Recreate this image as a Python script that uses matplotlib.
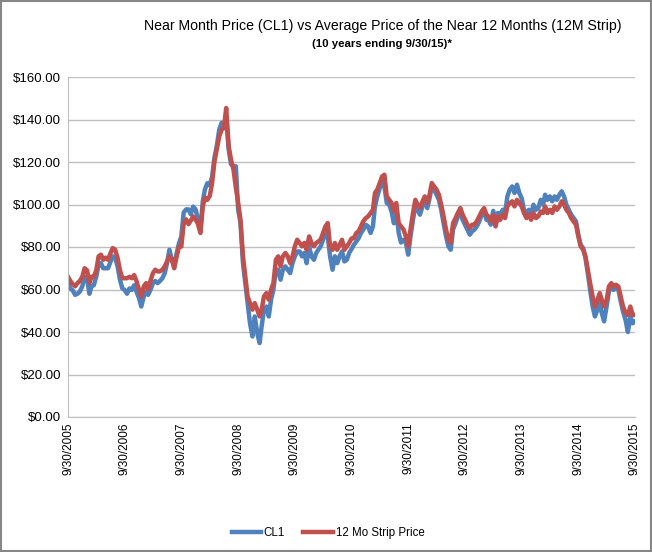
import matplotlib
matplotlib.use("Agg")
import matplotlib.pyplot as plt
from matplotlib.patches import Rectangle
import pandas as pd

plt.rcParams['font.family'] = ['Liberation Sans', 'DejaVu Sans']

# semi-monthly observations (15th and month end), 9/30/2005 .. 9/30/2015
try:
    dates = pd.date_range('2005-09-30', '2015-09-30', freq='SME')
except ValueError:
    dates = pd.date_range('2005-09-30', '2015-09-30', freq='SM')

cl1 = [
    63, 60.5, 59.5, 57.5, 58, 59, 61.5, 66, 65, 58,
    61.5, 62, 66, 71.7, 72.4, 70, 70, 70, 73, 75.6,
    75, 71, 64.5, 60.5, 59.8, 58, 60.5, 59.8, 62, 59,
    56, 52, 56.7, 59, 57.5, 59.8, 63, 64, 63, 64,
    65.3, 67.7, 72.4, 78.7, 74, 71, 77, 81.8, 85, 96.2,
    97.7, 97.7, 95.4, 99, 97.7, 93, 88.2, 101.4, 107.1, 110,
    109, 113, 121.9, 127.4, 135.2, 138.4, 136.8, 140, 125.8, 119,
    118, 118, 97.6, 91.3, 72.4, 63, 53.6, 44.2, 37.9, 47.3,
    39.5, 34.8, 42.6, 50.5, 52, 47.3, 55.2, 59.9, 69.3, 69.3,
    64.6, 69.3, 70.9, 69.3, 67.7, 72.4, 75.6, 77.9, 77.9, 75.6,
    77.2, 72.4, 80.3, 75.6, 74, 77.2, 78.7, 80.3, 83.4, 86.6,
    85, 75.6, 69.3, 75.6, 72.4, 75.6, 77.9, 73.2, 74, 77.2,
    79, 81, 82.6, 84.2, 86.6, 88.2, 90.5, 89.7, 86.6, 89.7,
    99.1, 103.8, 107.7, 110.1, 108.5, 100.7, 99.9, 96.7, 91.2, 98.3,
    86.6, 82.1, 83.4, 82.1, 76.4, 85, 92.8, 99.1, 97.5, 95.2,
    99.1, 102.2, 98.3, 103, 108.5, 107, 104.6, 102.2, 97.5, 91.2,
    85, 80.3, 78.7, 88.2, 91.2, 94.4, 96, 92.8, 90.5, 88.2,
    85.8, 87.4, 88.2, 89.7, 92, 95.2, 96.7, 92.8, 92.8, 90.5,
    97, 91.2, 96, 95.2, 97.5, 96, 103.8, 107, 108.5, 105.4,
    109.3, 105.4, 103, 97.5, 96, 97.5, 95.2, 99.9, 97.5, 98.3,
    102.2, 99.9, 104.6, 102.2, 103.8, 101.5, 103.8, 102.2, 104.6, 106.2,
    103.8, 99.9, 97.5, 95.2, 93.6, 92, 85.7, 81, 79.5, 74.8,
    67.7, 59.8, 52, 47.3, 50.4, 55.1, 48.9, 45, 52, 59,
    61.4, 59.8, 60.6, 59.8, 54.4, 49.6, 45.7, 40, 47.3, 44.1,
    45,
]

strip = [
    66, 64, 62.5, 61.5, 63, 64, 66, 70, 69, 63,
    66, 66, 69, 75.6, 76.4, 74, 75, 74, 77, 79.5,
    78.7, 75, 69, 65.3, 65.3, 65.3, 66, 65.3, 66.8, 64,
    60, 56.7, 61.5, 63, 60, 64, 67.7, 69.3, 68.5, 68.5,
    69.3, 70.9, 73.3, 75.6, 74, 70, 75.6, 80.2, 80.2, 90.8,
    93, 90.8, 92.4, 94.4, 93, 90.8, 86.6, 99, 103.2, 102.2,
    104, 110, 120, 125.8, 132, 135.2, 136, 145.4, 127.4, 121,
    116.4, 108, 100.7, 92.8, 75.6, 66.2, 56.7, 53.6, 50.5, 53.6,
    50.5, 47.3, 50.5, 56.7, 58.3, 55.2, 59.9, 63, 74, 75.6,
    70.9, 75.6, 77.2, 75.6, 72.4, 75.6, 80.3, 83.4, 81.9, 80.3,
    81.9, 78.7, 85, 81.9, 80.3, 81.9, 82.6, 83.4, 86.6, 89.7,
    91.3, 80.3, 78.7, 81.9, 78.7, 81, 83.4, 78.7, 80.3, 81.9,
    84, 84.2, 86.6, 87.4, 89.7, 92.1, 93.6, 94.4, 96, 97.5,
    105.4, 107, 110.1, 113.2, 114, 103.8, 102.2, 100.7, 96.7, 100.7,
    91.2, 89.7, 88.2, 85, 80.3, 88.2, 96, 102.2, 99.9, 98.3,
    101.4, 103.8, 100.7, 104.6, 110.1, 108.5, 107, 104.6, 99.9, 94.4,
    88.2, 83.5, 82, 91.2, 93.6, 96, 98.3, 95.2, 93, 90.5,
    89, 90.5, 90.5, 92.1, 94.4, 96.7, 98.3, 95.2, 94.4, 92.1,
    95, 89.7, 94.4, 92.8, 95.2, 93.6, 99.1, 100.7, 101.5, 99.1,
    102.2, 100.7, 99.1, 96, 93.6, 95.2, 92.8, 96, 93.6, 94.4,
    96.7, 96, 99.1, 96, 97.5, 96, 99.1, 97.5, 99.1, 101.5,
    100, 97.5, 96, 93.6, 92, 90.5, 85, 80.3, 78.7, 75.6,
    69.3, 63, 56.7, 52, 55.1, 58.3, 55.1, 52, 55.1, 61.4,
    63, 61.4, 62.2, 61.4, 56.7, 52, 48.9, 48, 52, 48,
    48,
]

year_ticks = pd.date_range('2005-09-30', '2015-09-30', freq='12ME')
y_ticks = [0, 20, 40, 60, 80, 100, 120, 140, 160]

BLUE = '#4F81BD'
RED = '#C0504D'
GRID = '#BFBFBF'

fig = plt.figure(figsize=(6.52, 5.52), dpi=100)
ax = fig.add_axes([68 / 652, 1 - 417 / 552, (635 - 68) / 652, (417 - 77) / 552])

ax.plot(dates, cl1, color=BLUE, lw=3.2, label='CL1', solid_joinstyle='round')
ax.plot(dates, strip, color=RED, lw=3.2, label='12 Mo Strip Price', solid_joinstyle='round')

ax.set_ylim(0, 160)
ax.set_xlim(dates[0], dates[-1])
ax.set_yticks(y_ticks)
ax.set_yticklabels([f'${v:.2f}' for v in y_ticks])
ax.set_xticks(year_ticks)
ax.set_xticklabels([f'{d.month}/{d.day}/{d.year}' for d in year_ticks], rotation=90)
ax.tick_params(axis='both', length=0, labelcolor='black')
ax.tick_params(axis='y', labelsize=9.5, pad=5)
ax.tick_params(axis='x', labelsize=8.5, pad=4)
ax.grid(axis='y', color=GRID, lw=1)
ax.set_axisbelow(True)
for side in ['top', 'right']:
    ax.spines[side].set_visible(False)
for side in ['left', 'bottom']:
    ax.spines[side].set_color('#BFBFBF')

fig.text(383 / 652, 1 - 26 / 552, 'Near Month Price (CL1) vs Average Price of the Near 12 Months (12M Strip)',
         ha='center', va='center', fontsize=10.2)
fig.text(382 / 652, 1 - 44 / 552, '(10 years ending 9/30/15)*', ha='center', va='center',
         fontsize=8.2, fontweight='bold')

fig.legend(loc='center', bbox_to_anchor=(328 / 652, 1 - 533 / 552), ncol=2, frameon=False,
           fontsize=8.3, handlelength=2.6, columnspacing=1.6, handletextpad=0.2)

# chart border
fig.patches.append(Rectangle((0.002, 0.002), 0.996, 0.996, transform=fig.transFigure,
                             fill=False, edgecolor='#868686', lw=1.5))

fig.savefig('out.png', dpi=100)
